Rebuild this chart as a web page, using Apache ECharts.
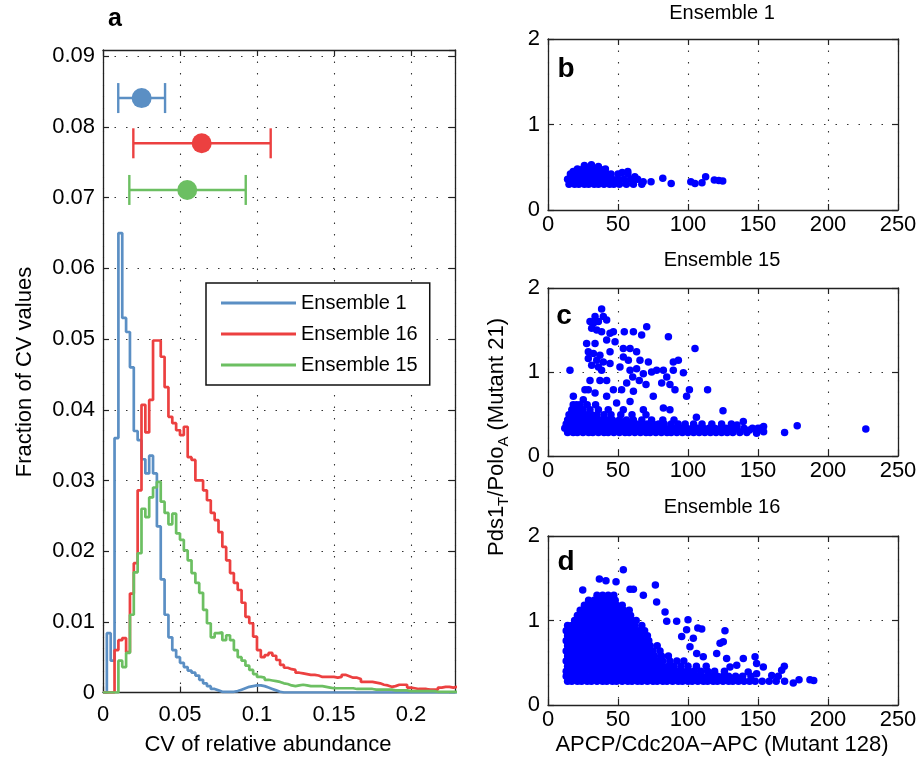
<!DOCTYPE html>
<html>
<head>
<meta charset="utf-8">
<script src="https://cdn.jsdelivr.net/npm/echarts@6/dist/echarts.min.js"></script>
<style>
html, body { margin: 0; padding: 0; background: #fff; }
#main { width: 923px; height: 771px; }
</style>
</head>
<body>
<div id="main"></div>
<script>
var FONT = '"Liberation Sans", Arial, sans-serif';

// ---- panel a: histograms of CV values, bins of 0.0025 starting at 0
var binWidth = 0.0025;
var ens1Hist = [0, 0.0084, 0.0045, 0.036, 0.065, 0.053, 0.051, 0.046, 0.037, 0.0357,
  0.033, 0.031, 0.0335, 0.031, 0.0235, 0.016, 0.011, 0.0078, 0.006, 0.005,
  0.0042, 0.0036, 0.0031, 0.0028, 0.0024, 0.0018, 0.0013, 0.0009, 0.0005, 0.0003,
  0.0001, 0.0001, 0.0001, 0.0001, 0.0002, 0.0004, 0.0006, 0.0008, 0.0009, 0.001,
  0.001, 0.0009, 0.0007, 0.0005, 0.0003, 0.0001, 0, 0, 0, 0,
  0, 0, 0, 0, 0, 0, 0, 0, 0, 0,
  0, 0, 0, 0, 0, 0, 0, 0, 0, 0,
  0, 0, 0, 0, 0, 0, 0, 0, 0, 0,
  0, 0, 0, 0, 0, 0, 0, 0, 0, 0,
  0, 0];
var ens16Hist = [0, 0, 0, 0.006, 0.0074, 0.0077, 0.0057, 0.014, 0.0183, 0.0286,
  0.0407, 0.0368, 0.0414, 0.0498, 0.0498, 0.0475, 0.0432, 0.039, 0.0381, 0.0371,
  0.0364, 0.0376, 0.0333, 0.0329, 0.030, 0.030, 0.0286, 0.0272, 0.0254, 0.0244,
  0.0227, 0.0206, 0.0187, 0.0169, 0.0155, 0.0145, 0.0127, 0.0107, 0.0098, 0.0079,
  0.006, 0.005, 0.0053, 0.0056, 0.0052, 0.0046, 0.0039, 0.0035, 0.0033, 0.0032,
  0.0028, 0.0027, 0.0026, 0.0025, 0.0025, 0.0024, 0.0022, 0.0022, 0.0022, 0.0022,
  0.0021, 0.0022, 0.0025, 0.0023, 0.0021, 0.0021, 0.0019, 0.0015, 0.0015, 0.0015,
  0.0014, 0.0013, 0.0011, 0.001, 0.0008, 0.0009, 0.0011, 0.0011, 0.0011, 0.0007,
  0.0006, 0.0005, 0.0005, 0.0005, 0.0004, 0.0004, 0.0004, 0.0007, 0.0008, 0.0008,
  0.0007, 0.0008];
var ens15Hist = [0, 0, 0, 0, 0.0045, 0.0036, 0.0056, 0.011, 0.017, 0.0197,
  0.026, 0.0248, 0.0276, 0.029, 0.0298, 0.027, 0.0254, 0.0238, 0.0253, 0.0225,
  0.0216, 0.0201, 0.0187, 0.0169, 0.0155, 0.0141, 0.0117, 0.0098, 0.0078, 0.0084,
  0.0085, 0.0074, 0.0081, 0.0074, 0.006, 0.005, 0.0045, 0.0038, 0.0032, 0.0026,
  0.0022, 0.0021, 0.0018, 0.0017, 0.0016, 0.0015, 0.0013, 0.0012, 0.001, 0.0009,
  0.001, 0.0011, 0.001, 0.0009, 0.0009, 0.0009, 0.0009, 0.0008, 0.0007, 0.0006,
  0.0006, 0.0006, 0.0006, 0.0006, 0.0006, 0.0005, 0.0005, 0.0005, 0.0005, 0.0005,
  0.0004, 0.0004, 0.0004, 0.0004, 0.0004, 0.0003, 0.0003, 0.0003, 0.0003, 0.0002,
  0.0002, 0.0002, 0.0002, 0.0002, 0.0002, 0.0002, 0.0001, 0.0001, 0.0001, 0.0001,
  0.0001, 0.0001];

// mean with spread, drawn above the histograms
var errMean = [0.0251, 0.0641, 0.0547];
var errLow = [0.0099, 0.0197, 0.0171];
var errHigh = [0.0403, 0.1089, 0.0927];
var errY = [0.0841, 0.0777, 0.0711];

var colors = ['#5b8fc4', '#ec4040', '#6cbf62'];
var names = ['Ensemble 1', 'Ensemble 16', 'Ensemble 15'];

// ---- panels b-d: scatter.  rows are "y: x x x ..." for the dense parts
var ens1Rows = [
  '0.30: 15 19 22 26 29 33 36 40 44 47 51 56 61 67',
  '0.36: 14 17 21 24 28 32 35 39 42 46 50 54 59 64',
  '0.42: 16 20 23 27 31 34 38 42 45 50 57',
  '0.48: 21 25 29 33 37 41'
];
var ens1Loose = [[53, 0.44], [57, 0.45], [62, 0.39], [68, 0.33], [73.6, 0.33], [82, 0.37],
  [88, 0.31], [102, 0.33], [105, 0.31], [110, 0.32], [112.6, 0.39], [118.8, 0.35],
  [122, 0.345], [124.8, 0.34], [26, 0.52], [31, 0.53], [36, 0.51], [18, 0.45]];

var ens15Rows = [
  '0.28: 14 18 21 25 29 32 36 40 43 47 51 55 58 62 66 70 73 77 81 85 88 92 96 100 104 108 112 116 120 124 128 132 137 142',
  '0.33: 12 16 19 23 27 31 34 38 42 46 49 53 57 61 64 68 72 76 80 83 87 91 95 99 103 107 111 115 119 123 127 131 135 140 146 152',
  '0.38: 13 17 20 24 28 32 36 39 43 47 51 55 59 63 67 71 75 79 83 88 93 98 104 110 117 124 131',
  '0.43: 14 18 22 26 30 34 38 42 46 51 56 61 67 74 82 90',
  '0.49: 15 19 23 27 31 35 40 45 52 60 70',
  '0.55: 17 21 25 30 36 43',
  '0.61: 18 23 28 34'
];
var ens15Loose = [[38.3, 1.75], [33.6, 1.66], [39.5, 1.66], [30, 1.6], [32.4, 1.58], [36, 1.6],
  [41.9, 1.62], [31.2, 1.52], [34.8, 1.5], [38.3, 1.48], [44.3, 1.46], [46.7, 1.48],
  [47.9, 1.36], [41.9, 1.38], [27.6, 1.34], [33.6, 1.34], [28.8, 1.24], [32.4, 1.22],
  [37.1, 1.2], [44.3, 1.24], [28.8, 1.16], [34.8, 1.14], [39.5, 1.12], [31.2, 1.08],
  [36, 1.06], [44.3, 1.1], [38.3, 1.02], [15.7, 1.02], [54.5, 1.48], [61, 1.48],
  [70.5, 1.54], [66.9, 1.44], [86, 1.42], [53.8, 1.28], [58.6, 1.28], [63.3, 1.24],
  [53.8, 1.18], [57.4, 1.14], [65.7, 1.14], [71.7, 1.12], [51.4, 1.06], [58.6, 1.02],
  [63.3, 1.04], [68.1, 0.98], [60.5, 0.94], [65.2, 0.9], [56.2, 0.87], [70, 0.85],
  [52.6, 0.79], [61, 0.77], [74, 1.0], [77.6, 1.02], [82.4, 1.02], [89.5, 1.02],
  [84.8, 0.94], [81.2, 0.87], [87.1, 0.85], [90.7, 0.79], [93.1, 1.14], [89.5, 1.12],
  [96.7, 0.99], [105, 1.28], [101, 0.79], [99, 0.71], [114, 0.79], [125, 0.54],
  [82.4, 0.57], [87.1, 0.55], [106, 0.46], [75.2, 0.71], [41.9, 0.9], [46.7, 0.79],
  [37.1, 0.9], [33.6, 0.75], [41.9, 0.71], [28.8, 0.79], [25.2, 0.67], [18.1, 0.71],
  [20.5, 0.61], [26.4, 0.79], [30, 0.9], [49, 0.63], [58.6, 0.65], [68.1, 0.55],
  [53.8, 0.55], [139.5, 0.41], [154, 0.35], [150, 0.33], [149, 0.27], [169, 0.28],
  [178, 0.36], [227, 0.32], [144, 0.31], [154, 0.29], [135, 0.37]];

var ens16Rows = [
  '0.28: 14 17 21 24 28 31 35 39 42 46 49 53 57 60 64 67 71 75 78 82 85 89 93 96 100 103 107 111 114 118 121 125 129 132 136 140 144 148 153 158 163 169',
  '0.34: 13 16 20 23 27 31 34 38 41 45 49 52 56 59 63 67 70 74 77 81 85 88 92 95 99 103 106 110 114 117 121 125 129 134 139 145',
  '0.40: 13 17 20 24 27 31 35 38 42 45 49 53 56 60 63 67 71 74 78 81 85 89 92 96 100 104 109 114 119 126',
  '0.46: 14 17 21 24 28 32 35 39 42 46 50 53 57 60 64 68 71 75 79 82 86 90 95 100 106 113',
  '0.52: 13 16 20 23 27 31 34 38 41 45 49 52 56 60 63 67 70 74 78 82 87 92 97',
  '0.58: 14 17 21 25 28 32 35 39 43 46 50 54 57 61 64 68 72 76 81 86',
  '0.64: 13 16 20 23 27 31 34 38 42 45 49 53 56 60 64 67 71 75 80',
  '0.70: 14 17 21 25 28 32 36 39 43 46 50 54 58 61 65 69 73 78',
  '0.76: 13 16 20 24 27 31 34 38 42 45 49 53 56 60 64 68 72',
  '0.82: 14 17 21 24 28 32 35 39 43 46 50 54 58 62 66 71',
  '0.88: 13 16 20 24 28 31 35 39 42 46 50 53 57 61 65 69',
  '0.94: 14 17 21 25 29 33 36 40 44 47 51 55 58 62 67',
  '1.00: 19 23 26 30 34 38 41 45 49 52 56 60 63',
  '1.06: 21 25 29 33 36 40 44 48 51 55 59',
  '1.12: 23 27 31 35 39 42 46 50 54 58',
  '1.18: 26 30 34 38 42 45 49 53',
  '1.24: 29 33 37 41 44 48',
  '1.30: 35 39 43 47'
];
var ens16Loose = [[24.8, 1.36], [36.7, 1.49], [41.4, 1.47], [48.6, 1.46], [53.8, 1.6],
  [58.6, 1.37], [61, 1.37], [76.7, 1.42], [77.6, 1.22], [68.1, 1.3], [83.6, 1.1],
  [91.9, 0.99], [100, 1.01], [107, 0.91], [109.8, 0.9], [84.8, 0.99], [126.4, 0.88],
  [122.9, 0.73], [125.2, 0.75], [127.6, 0.55], [139.5, 0.55], [147.9, 0.57], [149, 0.49],
  [168.8, 0.46], [166.9, 0.41], [175.2, 0.26], [179.3, 0.3], [187.1, 0.3], [189.8, 0.29],
  [153.8, 0.45], [149, 0.37], [159.8, 0.35], [164.5, 0.34], [99, 0.89], [101.4, 0.69],
  [95.5, 0.81], [103.8, 0.79], [106.2, 0.61], [120.5, 0.61], [110.9, 0.57], [130, 0.45],
  [134.8, 0.47], [143, 0.39]];

function parseRows(rows) {
  var pts = [];
  rows.forEach(function (r) {
    var parts = r.split(':');
    var y = parseFloat(parts[0]);
    parts[1].trim().split(/\s+/).forEach(function (x) { pts.push([+x, y]); });
  });
  return pts;
}

function histSteps(hist) {
  var d = hist.map(function (v, i) { return [i * binWidth, v]; });
  d.push([hist.length * binWidth, hist[hist.length - 1]]);
  return d;
}

var gridStyle = { color: '#333', width: 1.1, type: [1.5, 10] };
var axisLine = { show: true, onZero: false, lineStyle: { color: '#222', width: 1.3 } };
var tick = { show: true, inside: true, length: 6, lineStyle: { color: '#222', width: 1.2 } };
var labelStyle = { fontFamily: FONT, fontSize: 22, color: '#000' };

var xAxes = [], yAxes = [];
function addAxes(gi, xr, yr, xMargin) {
  xAxes.push({ type: 'value', gridIndex: gi, min: xr[0], max: xr[1], interval: xr[2],
    axisLine: axisLine, axisTick: tick, splitLine: { show: true, lineStyle: gridStyle },
    axisLabel: Object.assign({ margin: xMargin, showMaxLabel: xr[3] }, labelStyle) });
  xAxes.push({ type: 'value', gridIndex: gi, position: 'top', min: xr[0], max: xr[1], interval: xr[2],
    axisLine: axisLine, axisTick: tick, splitLine: { show: false }, axisLabel: { show: false } });
  yAxes.push({ type: 'value', gridIndex: gi, min: yr[0], max: yr[1], interval: yr[2],
    axisLine: axisLine, axisTick: tick, splitLine: { show: true, lineStyle: gridStyle },
    axisLabel: Object.assign({ margin: 8, showMaxLabel: yr[3] }, labelStyle) });
  yAxes.push({ type: 'value', gridIndex: gi, position: 'right', min: yr[0], max: yr[1], interval: yr[2],
    axisLine: axisLine, axisTick: tick, splitLine: { show: false }, axisLabel: { show: false } });
}
addAxes(0, [0, 0.2286, 0.05, false], [0, 0.0909, 0.01, false], 11);
addAxes(1, [0, 250, 50, true], [0, 2, 1, true], 4);
addAxes(2, [0, 250, 50, true], [0, 2, 1, true], 4);
addAxes(3, [0, 250, 50, true], [0, 2, 1, true], 4);

var series = [];
[ens1Hist, ens16Hist, ens15Hist].forEach(function (h, i) {
  series.push({ name: names[i], type: 'line', xAxisIndex: 0, yAxisIndex: 0, step: 'end',
    symbol: 'none', data: histSteps(h), lineStyle: { color: colors[i], width: 2.7 },
    itemStyle: { color: colors[i] }, z: 3 + i });
});

series.push({
  type: 'custom', xAxisIndex: 0, yAxisIndex: 0, z: 8,
  data: errMean.map(function (m, i) { return [m, errY[i], errLow[i], errHigh[i]]; }),
  renderItem: function (params, api) {
    var c = api.coord([api.value(0), api.value(1)]);
    var lo = api.coord([api.value(2), api.value(1)]);
    var hi = api.coord([api.value(3), api.value(1)]);
    var col = colors[params.dataIndex];
    var st = { stroke: col, lineWidth: 2.4 };
    return { type: 'group', children: [
      { type: 'line', shape: { x1: lo[0], y1: c[1], x2: hi[0], y2: c[1] }, style: st },
      { type: 'line', shape: { x1: lo[0], y1: c[1] - 15, x2: lo[0], y2: c[1] + 15 }, style: st },
      { type: 'line', shape: { x1: hi[0], y1: c[1] - 15, x2: hi[0], y2: c[1] + 15 }, style: st },
      { type: 'circle', shape: { cx: c[0], cy: c[1], r: 10 }, style: { fill: col } }
    ] };
  }
});

[[ens1Rows, ens1Loose], [ens15Rows, ens15Loose], [ens16Rows, ens16Loose]].forEach(function (p, i) {
  series.push({ type: 'scatter', xAxisIndex: (i + 1) * 2, yAxisIndex: (i + 1) * 2,
    data: parseRows(p[0]).concat(p[1]), symbolSize: 7.5, itemStyle: { color: '#0000ff', opacity: 1 } });
});

function txt(s, x, y, size, weight, rot) {
  return { type: 'text', x: x, y: y, rotation: rot || 0, z: 20,
    style: { text: s, font: (weight || 'normal') + ' ' + size + 'px ' + FONT, fill: '#000',
      textAlign: 'center', textVerticalAlign: 'middle' } };
}

var chart = echarts.init(document.getElementById('main'));
chart.setOption({
  animation: false,
  backgroundColor: '#fff',
  grid: [
    { left: 103, top: 50, width: 352, height: 642.5 },
    { left: 548, top: 39, width: 350, height: 171 },
    { left: 548, top: 288, width: 350, height: 168 },
    { left: 548, top: 536, width: 350, height: 169 }
  ],
  xAxis: xAxes,
  yAxis: yAxes,
  legend: {
    data: names, orient: 'vertical', left: 206, top: 283, icon: 'rect',
    itemWidth: 75, itemHeight: 3, itemGap: 11, padding: [10, 12, 10, 15],
    borderColor: '#111', borderWidth: 1.5, backgroundColor: '#fff',
    textStyle: { fontFamily: FONT, fontSize: 20, color: '#000', lineHeight: 20 }
  },
  graphic: [
    txt('a', 115, 19, 25, 'bold'),
    txt('b', 566, 69, 28, 'bold'),
    txt('c', 564, 316, 28, 'bold'),
    txt('d', 566, 562, 28, 'bold'),
    txt('Ensemble 1', 722, 13, 20),
    txt('Ensemble 15', 722, 260, 20),
    txt('Ensemble 16', 722, 507, 20),
    txt('CV of relative abundance', 268, 745, 22),
    txt('Fraction of CV values', 25, 372, 22, 'normal', Math.PI / 2),
    txt('APCP/Cdc20A\u2212APC (Mutant 128)', 722, 745, 22),
    { type: 'text', x: 497, y: 437, rotation: Math.PI / 2, z: 20,
      style: { text: '{n|Pds1}{s|T}{n|/Polo}{s|A}{n| (Mutant 21)}', fill: '#000',
        textAlign: 'center', textVerticalAlign: 'middle',
        rich: {
          n: { fontFamily: FONT, fontSize: 22, lineHeight: 28, fill: '#000' },
          s: { fontFamily: FONT, fontSize: 15, lineHeight: 28, verticalAlign: 'bottom', fill: '#000' }
        } } }
  ],
  series: series
});
</script>
</body>
</html>
